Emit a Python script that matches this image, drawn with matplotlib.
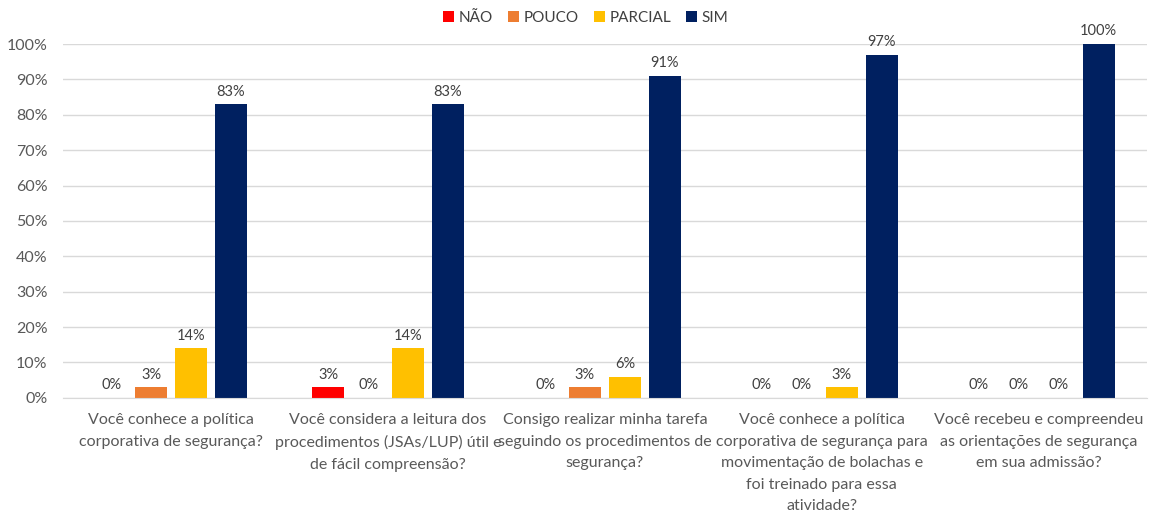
import numpy as np
import matplotlib
matplotlib.use("Agg")
import matplotlib.pyplot as plt
from matplotlib.ticker import PercentFormatter

plt.rcParams['font.family'] = ['Lato', 'DejaVu Sans']

questions = [
    "Você conhece a política\ncorporativa de segurança?",
    "Você considera a leitura dos\nprocedimentos (JSAs/LUP) útil e\nde fácil compreensão?",
    "Consigo realizar minha tarefa\nseguindo os procedimentos de\nsegurança?",
    "Você conhece a política\ncorporativa de segurança para\nmovimentação de bolachas e\nfoi treinado para essa\natividade?",
    "Você recebeu e compreendeu\nas orientações de segurança\nem sua admissão?",
]

series = ["NÃO", "POUCO", "PARCIAL", "SIM"]
nao = [0, 3, 0, 0, 0]
pouco = [3, 0, 3, 0, 0]
parcial = [14, 14, 6, 3, 0]
sim = [83, 83, 91, 97, 100]

colors = ['#FF0000', '#ED7D31', '#FFC000', '#002060']
text_color = '#595959'
grid_color = '#D9D9D9'

fig = plt.figure(figsize=(11.6, 5.12), dpi=100)
ax = fig.add_axes([0.054, 0.223, 0.935, 0.691])

index = np.arange(len(questions))
step = 0.184
bar_width = 0.148

for i, (name, vals) in enumerate(zip(series, [nao, pouco, parcial, sim])):
    pos = index + (i - 1.5) * step
    bars = ax.bar(pos, vals, bar_width, color=colors[i], label=name, zorder=3)
    for x, v in zip(pos, vals):
        ax.annotate("{}%".format(v), (x, v), xytext=(0, 4), textcoords='offset points',
                    ha='center', va='bottom', fontsize=10.5, color='#404040')

ax.set_xlim(-0.5, len(questions) - 0.5)
ax.set_ylim(0, 100)
ax.set_yticks(np.arange(0, 101, 10))
ax.yaxis.set_major_formatter(PercentFormatter(decimals=0))
ax.set_xticks(index)
ax.set_xticklabels(questions, fontsize=11.5, color=text_color, linespacing=1.68)
ax.tick_params(axis='both', length=0, colors=text_color)
ax.tick_params(axis='y', labelsize=11.5, pad=11)
ax.tick_params(axis='x', pad=11)

ax.grid(axis='y', color=grid_color, linewidth=1, zorder=0)
for side in ['top', 'right', 'left']:
    ax.spines[side].set_visible(False)
ax.spines['bottom'].set_color(grid_color)
ax.spines['bottom'].set_zorder(4)

fig.legend(loc='upper center', bbox_to_anchor=(0.505, 1.005), ncol=4, frameon=False,
           fontsize=11, handlelength=0.7, handleheight=0.7, handletextpad=0.3,
           columnspacing=1.0, labelcolor='#404040')

fig.savefig("out.png", dpi=100)
